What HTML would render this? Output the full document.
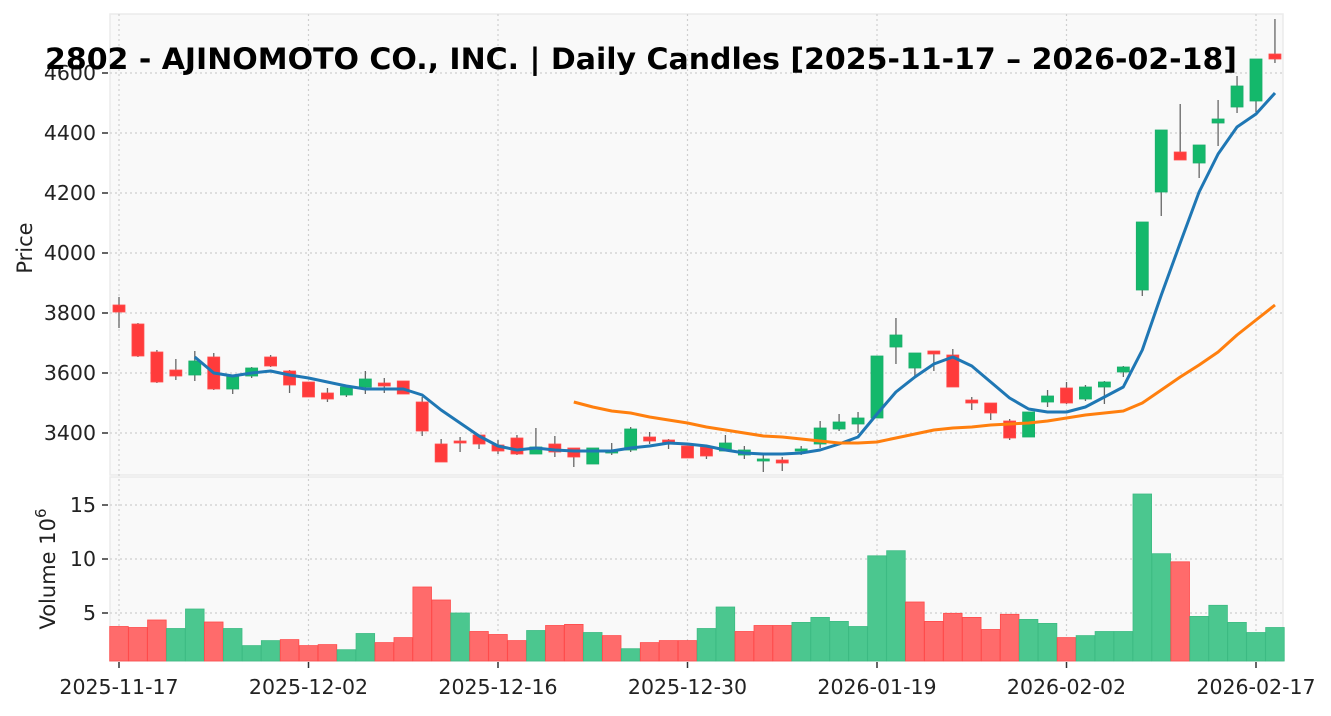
<!DOCTYPE html>
<html><head><meta charset="utf-8"><style>
html,body{margin:0;padding:0;background:#fff;}
svg text{font-family:"DejaVu Sans","Liberation Sans",sans-serif;}
</style></head><body>
<svg id="s" width="1331" height="711" xmlns="http://www.w3.org/2000/svg">
<rect x="0" y="0" width="1331" height="711" fill="#fff"/>
<rect x="110" y="14" width="1173" height="461" fill="#f9f9f9" stroke="#ebebeb" stroke-width="1.5"/>
<rect x="110" y="477" width="1173" height="184" fill="#f9f9f9" stroke="#ebebeb" stroke-width="1.5"/>
<g id="grid" stroke="#cfcfcf" stroke-width="1.2" stroke-dasharray="2,3"></g>
<g id="vol"></g>
<g id="cdl"></g>
<g id="ma"></g>
<g font-size="20.5" fill="#222" text-anchor="end">
<text x="96" y="80">4600</text>
<text x="96" y="140">4400</text>
<text x="96" y="200">4200</text>
<text x="96" y="260">4000</text>
<text x="96" y="320">3800</text>
<text x="96" y="380">3600</text>
<text x="96" y="440">3400</text>
<text x="96" y="512">15</text>
<text x="96" y="566">10</text>
<text x="96" y="620">5</text>
</g>
<g stroke="#333" stroke-width="1.5">
<line x1="102" y1="73" x2="108" y2="73"/><line x1="102" y1="133" x2="108" y2="133"/>
<line x1="102" y1="193" x2="108" y2="193"/><line x1="102" y1="253" x2="108" y2="253"/>
<line x1="102" y1="313" x2="108" y2="313"/><line x1="102" y1="373" x2="108" y2="373"/>
<line x1="102" y1="433" x2="108" y2="433"/>
<line x1="102" y1="505" x2="108" y2="505"/><line x1="102" y1="559" x2="108" y2="559"/>
<line x1="102" y1="613" x2="108" y2="613"/>
</g>
<g id="xt" stroke="#333" stroke-width="1.5"></g>
<g font-size="20.5" fill="#222" text-anchor="middle">
<text x="119" y="694">2025-11-17</text>
<text x="308.5" y="694">2025-12-02</text>
<text x="498" y="694">2025-12-16</text>
<text x="687.5" y="694">2025-12-30</text>
<text x="877" y="694">2026-01-19</text>
<text x="1066.5" y="694">2026-02-02</text>
<text x="1256" y="694">2026-02-17</text>
</g>
<text x="32" y="248" font-size="21" fill="#222" text-anchor="middle" transform="rotate(-90 32 248)">Price</text>
<text x="55" y="569" font-size="21" fill="#222" text-anchor="middle" transform="rotate(-90 55 569)">Volume  10<tspan font-size="15" dy="-9">6</tspan></text>
<text x="641" y="69" font-size="29" font-weight="bold" fill="#000" text-anchor="middle" textLength="1192" lengthAdjust="spacingAndGlyphs">2802 - AJINOMOTO CO., INC. | Daily Candles [2025-11-17 – 2026-02-18]</text>
</svg>
<script>
var NS="http://www.w3.org/2000/svg";
function el(p,t,a){var e=document.createElementNS(NS,t);for(var k in a)e.setAttribute(k,a[k]);document.getElementById(p).appendChild(e);return e;}
function X(i){return 119+18.95*i;}
var R="#ff3b3b",G="#14b86b";
var c=[
[305,312,297,328,R],[324,356,323,357,R],[352,382,350,383,R],[370,376,359,380,R],[361,375,351,381,G],
[357,389,353,390,R],[376,389,375,394,G],[368,376,367,378,G],[357,366,355,367,R],[371,385,370,393,R],
[382,397,382,397,R],[393,399,388,402,R],[387,395,386,397,G],[379,387,371,394,G],[383,386,378,393,R],
[381,394,381,394,R],[402,431,397,436,R],[444,462,439,462,R],[441,443,437,452,R],[435,444,435,449,R],
[445,451,440,454,R],[438,454,435,455,R],[447,454,428,454,G],[444,452,436,457,R],[448,457,448,467,R],
[448,464,448,464,G],[450,453,443,455,G],[429,450,427,452,G],[437,441,432,444,R],[440,443,439,449,R],
[446,458,446,458,R],[447,456,447,459,R],[443,451,435,451,G],[450,455,446,459,G],[459,461,455,472,G],
[460,463,457,471,R],[449,451,446,455,G],[428,444,421,448,G],[422,429,414,431,G],[418,424,412,433,G],
[356,418,356,418,G],[335,347,318,364,G],[353,368,353,376,G],[351,354,351,371,R],[355,387,349,387,R],
[400,403,397,410,R],[403,413,403,420,R],[421,438,419,440,R],[412,437,412,437,G],[396,402,390,407,G],
[388,403,382,404,R],[387,399,385,401,G],[382,387,381,404,G],[367,372,366,377,G],[222,290,222,296,G],
[130,192,130,216,G],[152,160,104,160,R],[145,163,145,178,G],[119,123,100,146,G],[86,107,76,113,G],
[59,101,59,112,G],[54,59,19,63,R]];
var vt=[626.5,627.5,620,628.5,609,622,628.5,645.6,640.6,639.6,645.6,644.6,649.7,633.5,642.6,637.6,587,600,613,631.5,634.5,640.6,630.5,625.5,624.4,632.5,635.6,648.7,642.6,640.6,640.6,628.5,607,631.5,625.5,625.5,622.4,617.4,621.4,626.5,555.8,550.7,602,621.4,613.3,617.4,629.5,614.3,619.4,623.4,637.6,635.6,631.5,631.5,494,553.7,561.8,616.4,605.3,622.4,632.5,627.5];
var vc="RRRGGRGGGRRRGGRRRRGRRRGRRGRGRRRGGRRRGGGGGGRRRRRRGGRGGGGGRGGGGG";
for(var p of [73,133,193,253,313,373,433,505,559,613]) el("grid","line",{x1:110,x2:1283,y1:p,y2:p});
for(var i=0;i<=60;i+=10){el("grid","line",{x1:X(i),x2:X(i),y1:14,y2:661});el("xt","line",{x1:X(i),x2:X(i),y1:662,y2:668});}
for(var i=0;i<62;i++){
 var col=vc[i]=="R"?"#ff6b6b":"#4bc78f",sc=vc[i]=="R"?"#ff4a4a":"#3dbb83";
 el("vol","rect",{x:X(i)-9.3,y:vt[i],width:18.6,height:661-vt[i],fill:col,stroke:sc,"stroke-width":0.8});
 var d=c[i];
 el("cdl","line",{x1:X(i),x2:X(i),y1:d[2],y2:d[3],stroke:"#666","stroke-width":1.3});
 var h=Math.max(d[1]-d[0],2);
 el("cdl","rect",{x:X(i)-6,y:d[0],width:12,height:h,fill:d[4],stroke:d[4]==R?"#ff4d4d":"#1aad6a","stroke-width":0.8});
}
var b=[357,373,376,373,371,375,378,382,386,389,389,389,395,410,423,436,446,450,448,450,451,451,451,448,446,443,444,446,450,453,454,454,453,450,444,437,414,392,377,364,357,366,382,398,409,412,412,407,397,387,350,295,243,192,154,127,114,93];
var s="";for(var k=0;k<b.length;k++)s+=(k?"L":"M")+X(k+4).toFixed(1)+" "+b[k];
el("ma","path",{d:s,fill:"none",stroke:"#1f77b4","stroke-width":3,"stroke-linejoin":"round"});
var o=[402,407,411,413,417,420,423,427,430,433,436,437,439,441,443,443,442,438,434,430,428,427,425,424,423,421,418,415,413,411,403,390,377,365,352,335,320,305];
s="";for(var k=0;k<o.length;k++)s+=(k?"L":"M")+X(k+24).toFixed(1)+" "+o[k];
el("ma","path",{d:s,fill:"none",stroke:"#ff7f0e","stroke-width":3,"stroke-linejoin":"round"});
</script>
</body></html>
